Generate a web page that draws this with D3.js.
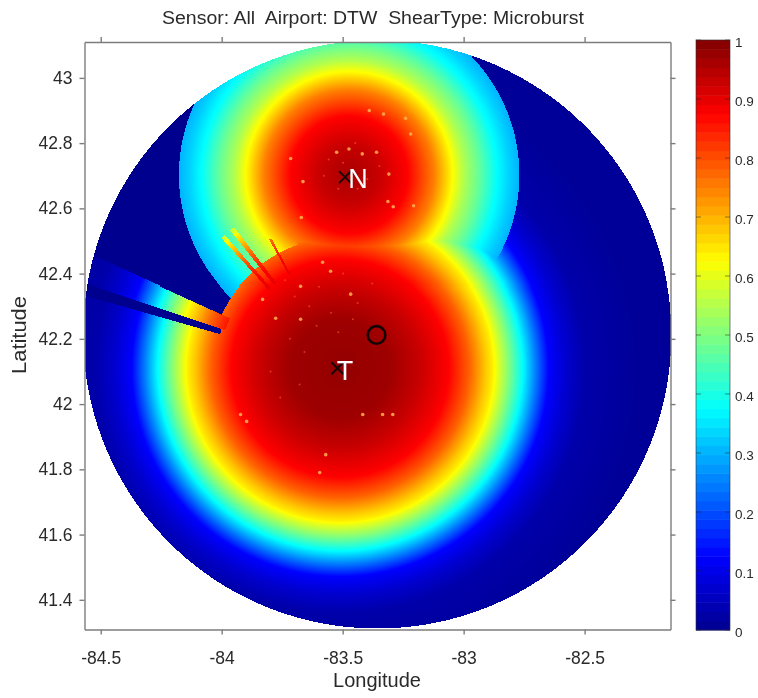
<!DOCTYPE html>
<html>
<head>
<meta charset="utf-8">
<script src="https://cdnjs.cloudflare.com/ajax/libs/d3/7.8.5/d3.min.js"></script>
<style>
  html, body { margin: 0; padding: 0; background: #fff; }
  #chart { position: relative; width: 758px; height: 698px; overflow: hidden; }
  #chart canvas { position: absolute; filter: blur(0.7px); }
  #chart svg { position: absolute; left: 0; top: 0; }
  text { font-family: "Liberation Sans", Arial, sans-serif; fill: #2a2a2a; }
</style>
</head>
<body>
<div id="chart"></div>
<script>
const titleText = "Sensor: All  Airport: DTW  ShearType: Microburst";
const xTicks = [-84.5, -84, -83.5, -83, -82.5];
const yTicks = [41.4, 41.6, 41.8, 42, 42.2, 42.4, 42.6, 42.8, 43];
const colorTicks = [0, 0.1, 0.2, 0.3, 0.4, 0.5, 0.6, 0.7, 0.8, 0.9, 1];

const jetStops = [0, 0.125, 0.375, 0.625, 0.875, 1];
const jetColors = ["#00008f", "#0000ff", "#00ffff", "#ffff00", "#ff0000", "#800000"];

// sites, lon / lat
const sensorT = [-83.511, 42.11];
const sensorN = [-83.482, 42.702];
const fieldN = [-83.474, 42.702];
const airport = [-83.36, 42.212];
const coverageKm = 100;

// detection probability against range from each sensor
const rangeT = [0, 17, 27, 37, 44, 49.5, 52, 57.5, 62, 66.5, 71, 77, 83.5, 102];
const probT = [0.98, 0.97, 0.93, 0.875, 0.78, 0.68, 0.64, 0.5, 0.38, 0.25, 0.125, 0.07, 0.03, 0.01];
const rangeN = [0, 10, 20, 29, 34, 39, 44.5, 50, 54.5, 58];
const probN = [0.96, 0.93, 0.875, 0.75, 0.65, 0.55, 0.47, 0.38, 0.33, 0.3];

// blocked bearings of sensor T, degrees west of north, and range the block starts
const blockFrom = [19, 71.5];
const blockTo = [65.5, 74];
const blockKm = [44.3, 42.6];
// thin open rays inside the blocked sector
const rayFrom = [41, 37, 28];
const rayTo = [42.5, 38.7, 29];
const rayEndKm = [60, 60, 50];

// small speckles, lon / lat
const speckLon = [-83.392, -83.242, -83.221, -83.717, -83.666, -83.476, -83.362, -83.311, -83.315, -83.293, -83.673, -83.527, -83.209, -83.421, -83.333,
  -83.779, -83.676, -83.552, -83.585, -83.899, -83.924, -83.337, -83.419, -83.295, -83.572, -83.597, -83.469, -83.676, -83.833];
const speckLat = [42.9, 42.876, 42.828, 42.753, 42.682, 42.782, 42.772, 42.705, 42.621, 42.605, 42.572, 42.772, 42.608, 42.767, 42.889,
  42.263, 42.361, 42.407, 42.435, 41.947, 41.968, 41.968, 41.968, 41.968, 41.845, 41.79, 42.337, 42.26, 42.321];
// fainter ones in the dark centres
const faintLon = [-83.74, -83.7, -83.64, -83.6, -83.55, -83.5, -83.44, -83.38, -83.72, -83.66, -83.61, -83.52, -83.46, -83.8, -83.76, -83.68,
  -83.56, -83.5, -83.44, -83.4, -83.52, -83.45, -83.58, -83.35];
const faintLat = [42.38, 42.33, 42.3, 42.36, 42.28, 42.4, 42.31, 42.37, 42.2, 42.16, 42.24, 42.22, 42.26, 42.1, 42.02, 42.06,
  42.75, 42.74, 42.66, 42.69, 42.66, 42.8, 42.7, 42.73];

const box = { left: 84.5, right: 670.5, top: 42, bottom: 629.5 };
const bar = { left: 696, right: 730, top: 40, bottom: 630 };

const x = d3.scaleLinear().domain([-84.567, -82.145]).range([box.left, box.right]);
const y = d3.scaleLinear().domain([41.309, 43.11]).range([box.bottom, box.top]);
const c = d3.scaleLinear().domain([0, 1]).range([bar.bottom, bar.top]);
const jet = d3.scaleLinear().domain(jetStops).range(jetColors).clamp(true);
const profileT = d3.scaleLinear().domain(rangeT).range(probT).clamp(true);
const profileN = d3.scaleLinear().domain(rangeN).range(probN).clamp(true);

const kmLat = 111.15;
const kmLon = 82.5;

function offset(lon, lat, site) {
  const dx = (lon - site[0]) * kmLon;
  const dy = (lat - site[1]) * kmLat;
  return { r: Math.hypot(dx, dy), west: Math.atan2(-dx, dy) * 180 / Math.PI };
}

function valueT(lon, lat) {
  const { r, west } = offset(lon, lat, sensorT);
  const shield = blockKm[0];
  for (let i = 0; i < rayFrom.length; i++) {
    if (west >= rayFrom[i] && west <= rayTo[i] && r > shield - 8 && r < rayEndKm[i]) return profileT(r - 5);
  }
  for (let i = 0; i < blockFrom.length; i++) {
    if (west >= blockFrom[i] && west <= blockTo[i] && r > blockKm[i]) return 0;
  }
  if (west > 65.5 && west < 71.5 && r > shield - 3) return profileT(r - 3);
  return profileT(r);
}

function valueN(lon, lat) {
  const { r } = offset(lon, lat, fieldN);
  return r > rangeN[rangeN.length - 1] ? 0 : profileN(r);
}

const chart = d3.select("#chart");

const canvas = chart.append("canvas")
  .attr("width", box.right - box.left)
  .attr("height", box.bottom - box.top)
  .style("left", box.left + "px")
  .style("top", box.top + "px");
const ctx = canvas.node().getContext("2d");

// heat cells on a lon / lat grid, snapped to whole pixels so no seams show
const stepLon = 0.00413, stepLat = 0.00307;
d3.range(x.domain()[0], x.domain()[1], stepLon).forEach((lon) => {
  d3.range(y.domain()[0], y.domain()[1], stepLat).forEach((lat) => {
    const d = offset(lon, lat, airport);
    if (d.r > coverageKm) return;
    ctx.fillStyle = jet(Math.max(valueT(lon, lat), valueN(lon, lat)));
    const x0 = Math.floor(x(lon) - box.left), y0 = Math.floor(y(lat + stepLat) - box.top);
    ctx.fillRect(x0, y0, Math.ceil(x(lon + stepLon) - box.left) - x0, Math.ceil(y(lat) - box.top) - y0);
  });
});

function dots(lons, lats, color, radius, alpha) {
  ctx.globalAlpha = alpha;
  ctx.fillStyle = color;
  lons.forEach((lon, i) => {
    ctx.beginPath();
    ctx.arc(x(lon) - box.left, y(lats[i]) - box.top, radius, 0, 2 * Math.PI);
    ctx.fill();
  });
  ctx.globalAlpha = 1;
}
dots(faintLon, faintLat, "#ff5a30", 1, 0.6);
dots(speckLon, speckLat, "#ffb050", 1.8, 0.85);

const svg = chart.append("svg").attr("width", 758).attr("height", 698);

// frame
const axisColor = "#7d7d7d";
const axes = [
  [d3.axisBottom(x).tickValues(xTicks).tickFormat(String).tickSize(5).tickPadding(17), 0, box.bottom],
  [d3.axisTop(x).tickValues(xTicks).tickFormat("").tickSize(5), 0, box.top],
  [d3.axisLeft(y).tickValues(yTicks).tickFormat(String).tickSize(5).tickPadding(7), box.left, 0],
  [d3.axisRight(y).tickValues(yTicks).tickFormat("").tickSize(5), box.right, 0],
];
axes.forEach(([axis, tx, ty]) => {
  const g = svg.append("g").attr("transform", `translate(${tx},${ty})`).call(axis.tickSizeOuter(0));
  g.selectAll("path, line").attr("stroke", axisColor).attr("stroke-width", 1.4);
  g.selectAll("text").attr("fill", "#2a2a2a").style("font-size", "17.5px").style("font-family", '"Liberation Sans", Arial, sans-serif');
});

// colorbar
const levels = d3.range(64);
svg.append("g").selectAll("rect").data(levels).join("rect")
  .attr("x", bar.left)
  .attr("width", bar.right - bar.left)
  .attr("y", (d) => c((d + 1) / 64))
  .attr("height", (d) => c(d / 64) - c((d + 1) / 64) + 0.5)
  .attr("fill", (d) => jet((d + 0.5) / 64));
svg.append("rect")
  .attr("x", bar.left).attr("y", bar.top)
  .attr("width", bar.right - bar.left).attr("height", bar.bottom - bar.top)
  .attr("fill", "none").attr("stroke", "#30303a").attr("stroke-opacity", 0.6);
const barTicks = svg.append("g").selectAll("g").data(colorTicks).join("g")
  .attr("transform", (d) => `translate(0,${c(d)})`);
barTicks.append("line").attr("x1", bar.left).attr("x2", bar.left + 5).attr("stroke", "#222").attr("stroke-opacity", 0.5);
barTicks.append("line").attr("x1", bar.right - 5).attr("x2", bar.right).attr("stroke", "#222").attr("stroke-opacity", 0.5);
barTicks.append("text").attr("x", 735).attr("dy", "0.5em").style("font-size", "13.5px").text(String);

// site markers
[sensorT, sensorN].forEach((s, i) => {
  const px = x(s[0]) - (i ? 2 : 2.5), py = y(s[1]) + (i ? 2 : 0);
  svg.append("path")
    .attr("d", `M${px - 6},${py - 6}L${px + 6},${py + 6}M${px - 6},${py + 6}L${px + 6},${py - 6}`)
    .attr("stroke", "#1a0505").attr("stroke-width", 2).attr("fill", "none");
});
svg.append("circle")
  .attr("cx", x(airport[0])).attr("cy", y(airport[1])).attr("r", 8.8)
  .attr("fill", "none").attr("stroke", "#160404").attr("stroke-width", 2.6);
svg.append("text").attr("x", x(sensorT[0]) + 5).attr("y", y(sensorT[1]) + 12)
  .attr("text-anchor", "middle").style("font-size", "27px").style("fill", "#fff").text("T");
svg.append("text").attr("x", x(sensorN[0]) + 11).attr("y", y(sensorN[1]) + 13)
  .attr("text-anchor", "middle").style("font-size", "27px").style("fill", "#fff").text("N");

// labels
svg.append("text").attr("x", 373).attr("y", 24).attr("text-anchor", "middle")
  .attr("textLength", 422).attr("lengthAdjust", "spacingAndGlyphs")
  .style("white-space", "pre").style("font-size", "18px").text(titleText);
svg.append("text").attr("x", 377).attr("y", 687).attr("text-anchor", "middle")
  .style("font-size", "20px").text("Longitude");
svg.append("text").attr("transform", "translate(26,335) rotate(-90)").attr("text-anchor", "middle")
  .attr("textLength", 78).attr("lengthAdjust", "spacingAndGlyphs")
  .style("font-size", "20px").text("Latitude");
</script>
</body>
</html>
